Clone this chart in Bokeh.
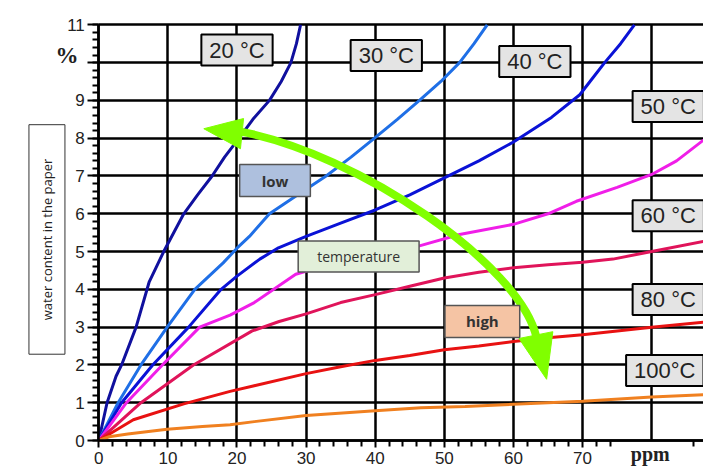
from math import pi
from bokeh.plotting import figure
from bokeh.models import Label, FixedTicker
from bokeh.embed import file_html
from bokeh.resources import INLINE

# ---- data ----
t20_x = [0, 1.2, 2.5, 3.3, 5.4, 7.3, 9.4, 12.3, 14.3, 16.4, 18.2, 20.3, 22.3, 24.7, 26.4, 27.8, 28.6, 29.2]
t20_y = [0, 1.0, 1.7, 2.0, 3.0, 4.2, 5.0, 6.0, 6.5, 7.0, 7.5, 8.0, 8.5, 9.0, 9.5, 10.0, 10.5, 11.0]

t30_x = [0, 2.8, 6.1, 9.9, 13.9, 18.0, 20.0, 21.8, 24.7, 28.8, 32.9, 36.5, 39.9, 43.2, 46.4, 49.5, 52.2, 54.3, 56.2]
t30_y = [0, 1.0, 2.0, 3.0, 4.0, 4.7, 5.09, 5.4, 6.0, 6.5, 7.0, 7.5, 8.0, 8.5, 9.0, 9.5, 10.0, 10.5, 11.0]

t40_x = [0, 3.3, 7.8, 13.0, 17.7, 20.0, 23.3, 26.0, 30.0, 35.0, 40.0, 45.0, 50.0, 55.0, 60.0, 65.5, 69.6, 71.5, 73.2, 75.5, 77.5]
t40_y = [0, 1.0, 2.0, 3.0, 4.0, 4.35, 4.8, 5.1, 5.4, 5.75, 6.1, 6.5, 6.95, 7.4, 7.9, 8.55, 9.15, 9.6, 10.0, 10.5, 11.0]

t50_x = [0, 4.0, 9.2, 14.6, 19.0, 22.5, 28.5, 35.0, 40.0, 46.4, 52.2, 60.0, 65.0, 69.1, 75.0, 80.0, 83.6, 87.5]
t50_y = [0, 1.0, 2.0, 3.0, 3.32, 3.65, 4.4, 4.75, 4.95, 5.15, 5.45, 5.72, 6.0, 6.33, 6.7, 7.04, 7.4, 7.95]

t60_x = [0, 6.1, 13.7, 22.2, 26.1, 30, 35, 40, 45, 50, 55, 60, 65, 70, 74.4, 80, 87.5]
t60_y = [0, 1.0, 2.0, 2.9, 3.15, 3.35, 3.65, 3.86, 4.08, 4.3, 4.45, 4.57, 4.65, 4.72, 4.8, 5.0, 5.27]

t80_x = [0, 5, 12.3, 19, 22.5, 30, 35, 40, 45, 50, 55, 60, 65, 70, 75, 80, 87.5]
t80_y = [0, 0.55, 0.97, 1.3, 1.45, 1.77, 1.95, 2.12, 2.25, 2.4, 2.5, 2.62, 2.72, 2.8, 2.9, 3.0, 3.13]

t100_x = [0, 1.5, 4.2, 9.9, 15, 19, 22.5, 30, 40, 46.6, 53, 60, 70, 80, 87.5]
t100_y = [0, 0.1, 0.17, 0.3, 0.37, 0.42, 0.5, 0.66, 0.79, 0.87, 0.9, 0.96, 1.04, 1.15, 1.21]

series_x = [t20_x, t30_x, t40_x, t50_x, t60_x, t80_x, t100_x]
series_y = [t20_y, t30_y, t40_y, t50_y, t60_y, t80_y, t100_y]
series_colors = ["#10109e", "#1f6fe6", "#0a12d6", "#f01ee8", "#e0145a", "#e81212", "#f08020"]

# label boxes: (text, x, y)
temp_labels = [("20 °C", 20.0, 10.33), ("30 °C", 41.6, 10.19), ("40 °C", 63.1, 10.03),
               ("50 °C", 82.4, 8.84), ("60 °C", 82.4, 5.95), ("80 °C", 82.4, 3.73),
               ("100°C", 81.9, 1.85)]

x_major_ticks = [0, 10, 20, 30, 40, 50, 60, 70]
x_minor_ticks = [2, 4, 6, 8, 12, 14, 16, 18, 22, 24, 26, 28, 32, 34, 36, 38, 42, 44, 46, 48,
                 52, 54, 56, 58, 62, 64, 66, 68, 72, 74, 86]
x_grid_ticks = [0, 10, 20, 30, 40, 50, 60, 70, 80]
y_major_ticks = list(range(0, 12))
y_minor_ticks = [round(i * 0.2, 1) for i in range(0, 56)]

# green double arrow (annotation)
arrow_curve = dict(x0=19.8, y0=8.2, cx0=38, cy0=7.6, cx1=61, cy1=4.6, x1=63.3, y1=2.75)
head_left_x = [15.2, 20.95, 20.5]
head_left_y = [8.25, 8.52, 7.72]
head_bottom_x = [60.8, 65.7, 64.8]
head_bottom_y = [2.7, 2.88, 1.62]

# ---- figure: the frame fills the canvas, the axes sit at x=0 / y=0 ----
X0, X1 = -14.22, 87.5
Y0, Y1 = -0.767, 11.643
p = figure(width=703, height=469, x_range=(X0, X1), y_range=(Y0, Y1),
           output_backend="svg", toolbar_location=None, min_border=0)
p.outline_line_color = None
p.background_fill_color = "white"
p.border_fill_color = "white"

for g in (p.xgrid, p.ygrid):
    g.grid_line_color = "black"
    g.grid_line_width = 2.5
    g.grid_line_alpha = 1.0
p.xgrid.ticker = FixedTicker(ticks=x_grid_ticks)
p.ygrid.ticker = FixedTicker(ticks=y_major_ticks)
p.xgrid.cross_bounds = (0, 11)
p.ygrid.cross_bounds = (0, X1)

p.xaxis.ticker = FixedTicker(ticks=x_major_ticks, minor_ticks=x_minor_ticks)
p.yaxis.ticker = FixedTicker(ticks=y_major_ticks, minor_ticks=y_minor_ticks)
p.yaxis.major_label_overrides = {10: ""}
p.xaxis.fixed_location = 0
p.yaxis.fixed_location = 0
p.xaxis.bounds = (0, X1)
p.yaxis.bounds = (0, 11)
for ax in (p.xaxis, p.yaxis):
    ax.axis_line_color = "black"
    ax.axis_line_width = 2.5
    ax.major_tick_line_color = "black"
    ax.minor_tick_line_color = "black"
    ax.major_tick_line_width = 2
    ax.minor_tick_line_width = 2
    ax.major_tick_in = 0
    ax.minor_tick_in = 0
    ax.major_label_text_font = "Liberation Sans"
    ax.major_label_text_font_size = "17px"
    ax.major_label_text_color = "#222222"
p.xaxis.major_tick_out = 7
p.xaxis.minor_tick_out = 6
p.xaxis.major_label_standoff = 4
p.yaxis.major_tick_out = 11
p.yaxis.minor_tick_out = 6
p.yaxis.major_label_standoff = 3

for xs, ys, c in zip(series_x, series_y, series_colors):
    p.line(xs, ys, line_color=c, line_width=3)

# green arrow
p.bezier(x0=[arrow_curve["x0"]], y0=[arrow_curve["y0"]], x1=[arrow_curve["x1"]], y1=[arrow_curve["y1"]],
         cx0=[arrow_curve["cx0"]], cy0=[arrow_curve["cy0"]], cx1=[arrow_curve["cx1"]], cy1=[arrow_curve["cy1"]],
         line_color="#80ff00", line_width=8)
p.patches([head_left_x, head_bottom_x], [head_left_y, head_bottom_y],
          fill_color="#80ff00", line_color="#80ff00", line_width=1)

for txt, lx, ly in temp_labels:
    p.add_layout(Label(x=lx, y=ly, text=txt, text_align="center", text_baseline="middle",
                       text_font="Liberation Sans", text_font_size="22px", text_color="#222222",
                       background_fill_color="#e4e4e4", border_line_color="black", border_line_width=2,
                       padding=dict(left=8, right=8, top=3, bottom=3)))

p.add_layout(Label(x=25.5, y=6.88, text="low", text_align="center", text_baseline="middle",
                   text_font="Open Sans", text_font_style="bold", text_font_size="15px", text_color="#333333",
                   background_fill_color="#aec0de", border_line_color="#555555", border_line_width=1.5,
                   padding=dict(left=22, right=22, top=6, bottom=6)))
p.add_layout(Label(x=37.6, y=4.87, text="temperature", text_align="center", text_baseline="middle",
                   text_font="Open Sans", text_font_size="14px", text_color="#333333",
                   background_fill_color="#e2efd9", border_line_color="#555555", border_line_width=1.5,
                   padding=dict(left=19, right=19, top=6, bottom=6)))
p.add_layout(Label(x=55.5, y=3.15, text="high", text_align="center", text_baseline="middle",
                   text_font="Open Sans", text_font_style="bold", text_font_size="15px", text_color="#333333",
                   background_fill_color="#f5c4a4", border_line_color="#555555", border_line_width=1.5,
                   padding=dict(left=21, right=21, top=6, bottom=6)))

# axis titles
p.add_layout(Label(x=-7.5, y=5.32, text="water content in the paper", angle=pi / 2,
                   text_align="center", text_baseline="middle",
                   text_font="Open Sans", text_font_size="13px", text_color="#222222",
                   background_fill_color="white", border_line_color="#333333", border_line_width=1,
                   padding=dict(left=34, right=34, top=9, bottom=9)))
p.add_layout(Label(x=-4.6, y=10.19, text="%", text_align="center", text_baseline="middle",
                   text_font="Liberation Serif", text_font_style="bold", text_font_size="23px",
                   text_color="#222222"))
p.add_layout(Label(x=79.8, y=-0.37, text="ppm", text_align="center", text_baseline="middle",
                   text_font="Liberation Serif", text_font_style="bold", text_font_size="20px",
                   text_color="#222222"))

open("out.html", "w").write(file_html(p, INLINE))
